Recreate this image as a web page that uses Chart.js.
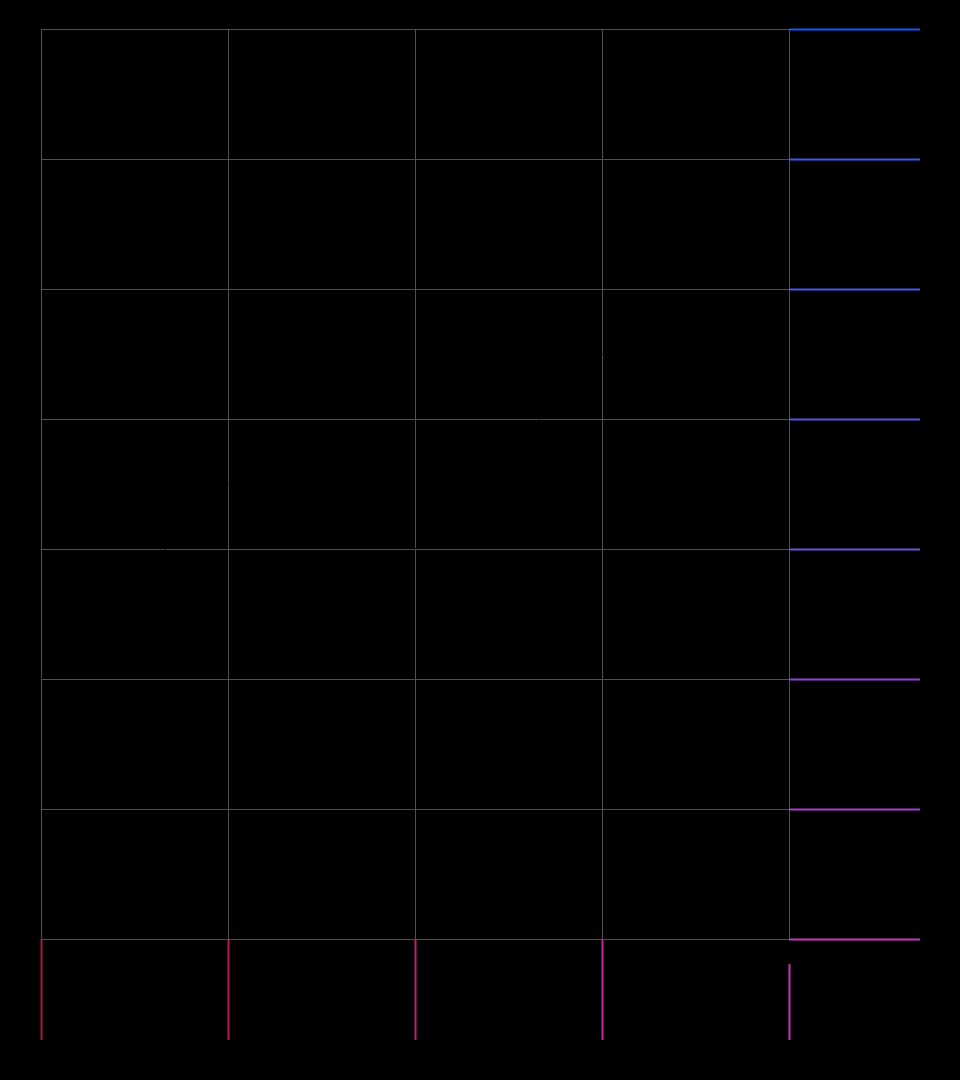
<!DOCTYPE html>
<html>
<head>
<meta charset="utf-8">
<script src="https://cdn.jsdelivr.net/npm/chart.js@4/dist/chart.umd.min.js"></script>
<style>
  html, body { margin: 0; padding: 0; background: #000; }
  #wrap { width: 960px; height: 1080px; position: relative; }
</style>
</head>
<body>
<div id="wrap"><canvas id="c"></canvas></div>
<script>
// ---- data ----
const categories = ["A", "B", "C", "D", "E"];
const seriesValues = [20, 35, 30, 45, 40];
const yTickValues = [0, 10, 20, 30, 40, 50, 60, 70];

// ---- styles ----
const GRID = "#505050";
const X_TICK_COLORS = ["#a8183c", "#b41c5a", "#bc227a", "#c22a98", "#c835b8"];
// bottom -> top
const Y_TICK_COLORS = ["#c838b8", "#a83ed0", "#9044d8", "#744ce0", "#5a52e6", "#4858ee", "#345cf4", "#0d5cff"];

new Chart(document.getElementById("c"), {
  type: "line",
  data: {
    labels: categories,
    datasets: [{
      label: "Series",
      data: seriesValues,
      borderColor: "#000",
      backgroundColor: "#000",
      pointRadius: 0,
      borderWidth: 1
    }]
  },
  options: {
    responsive: true,
    maintainAspectRatio: false,
    animation: false,
    layout: { padding: { left: 41, top: 29, right: 0, bottom: 0 } },
    plugins: { legend: { display: false }, tooltip: { enabled: false } },
    scales: {
      x: {
        position: "bottom",
        border: { display: false },
        grid: {
          color: GRID,
          lineWidth: 1,
          tickLength: 101,
          tickWidth: 2,
          tickColor: (ctx) => X_TICK_COLORS[ctx.index] || X_TICK_COLORS[X_TICK_COLORS.length - 1],
          tickBorderDash: (ctx) => ctx.index === categories.length - 1 ? [76, 25] : [],
          tickBorderDashOffset: (ctx) => ctx.index === categories.length - 1 ? 76 : 0
        },
        ticks: { color: "#000", font: { family: "DejaVu Sans", size: 12 } },
        afterFit: (s) => { s.height = 141; s.paddingLeft = 0; s.paddingRight = 0; }
      },
      y: {
        position: "right",
        min: yTickValues[0],
        max: yTickValues[yTickValues.length - 1],
        border: { display: false },
        afterBuildTicks: (s) => { s.ticks = yTickValues.map(v => ({ value: v })); },
        grid: {
          color: GRID,
          lineWidth: 1,
          tickLength: 131,
          tickWidth: 2,
          tickColor: (ctx) => Y_TICK_COLORS[ctx.index] || Y_TICK_COLORS[0]
        },
        ticks: { color: "#000", font: { family: "DejaVu Sans", size: 12 } },
        afterFit: (s) => { s.width = 171; s.paddingTop = 0; s.paddingBottom = 0; }
      }
    }
  }
});
</script>
</body>
</html>
